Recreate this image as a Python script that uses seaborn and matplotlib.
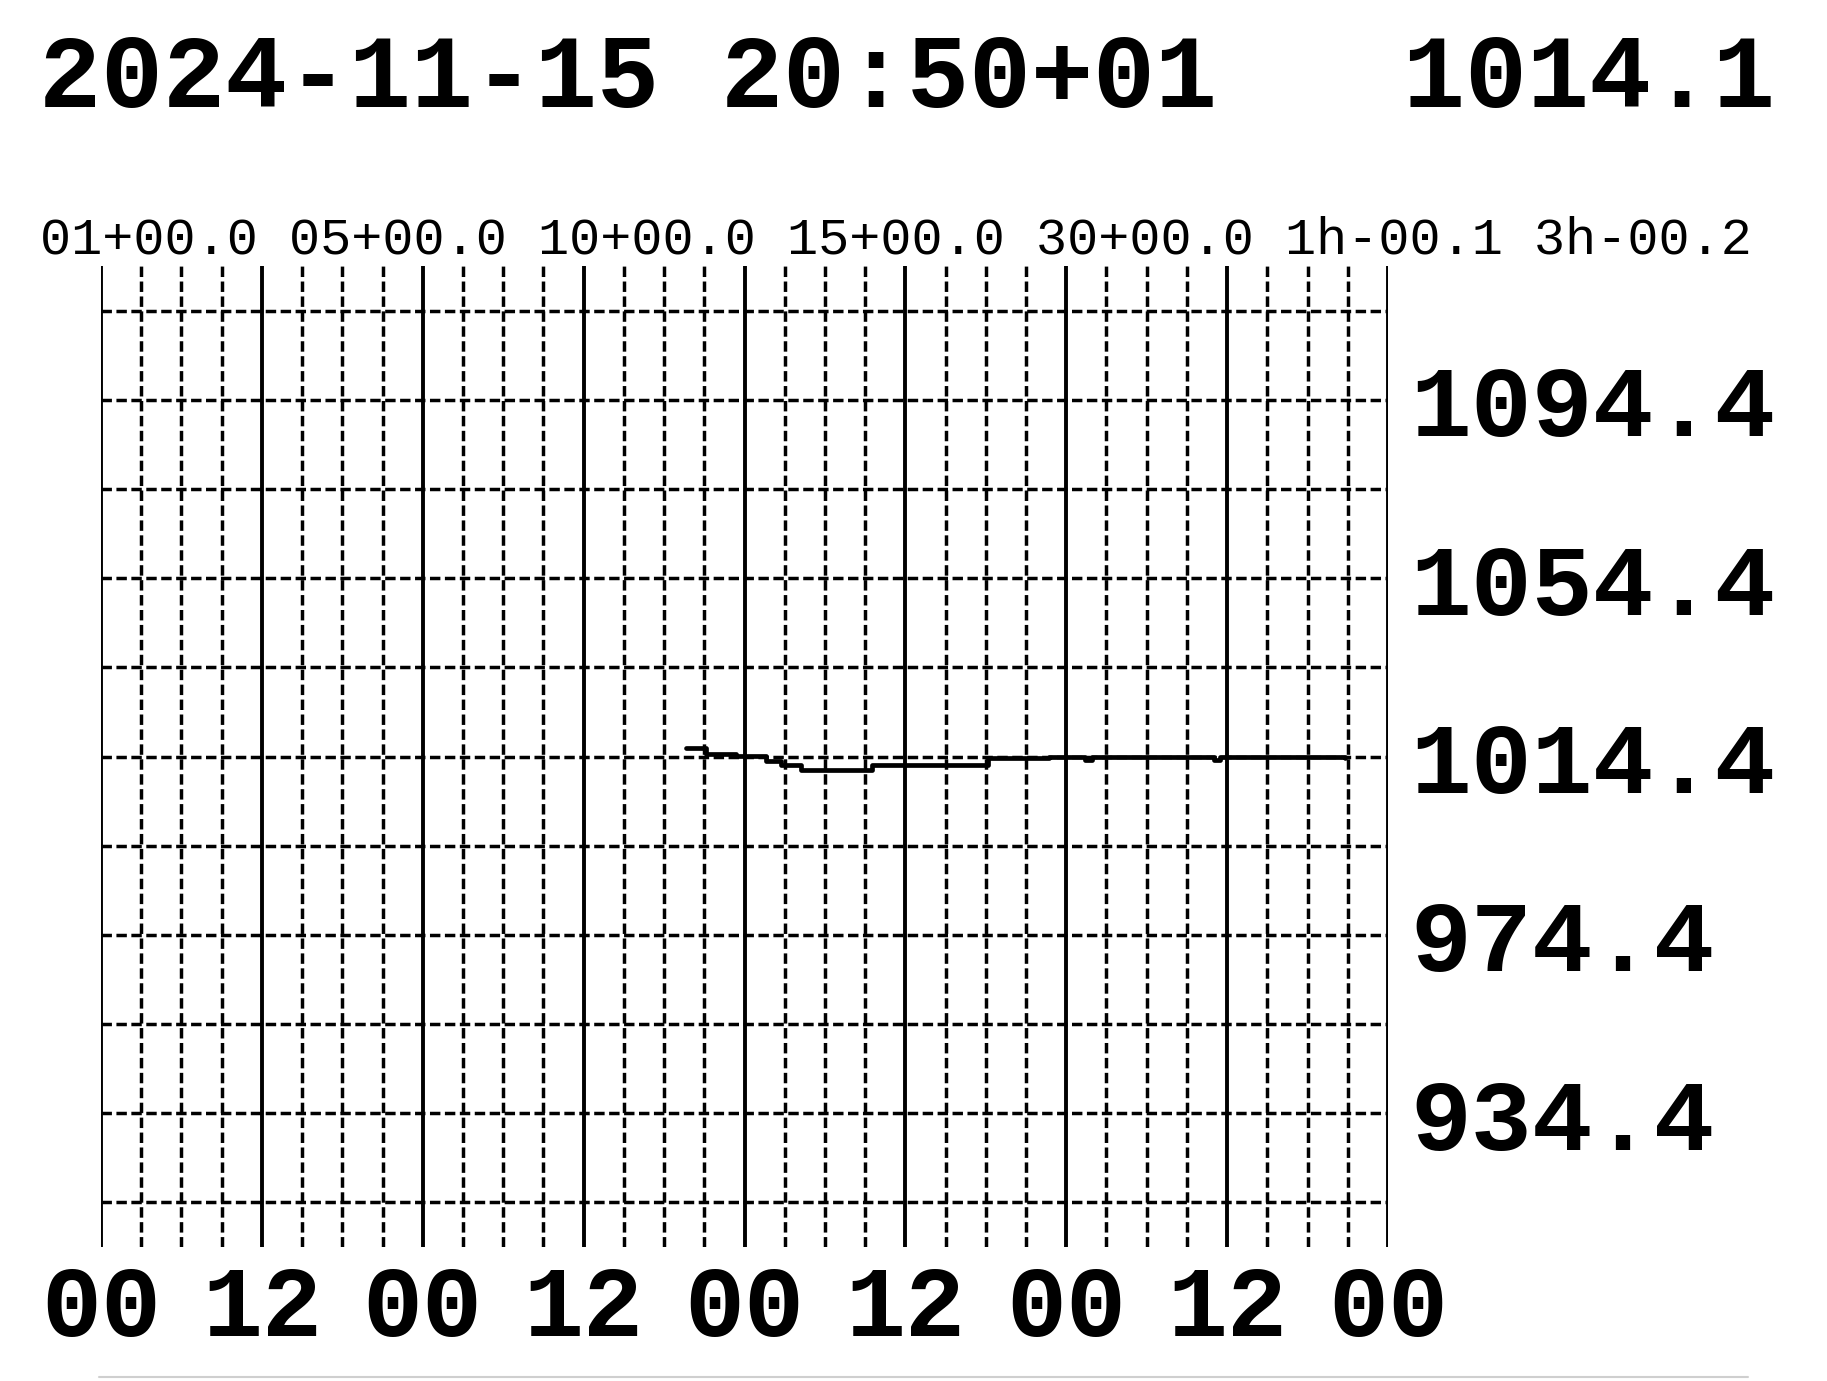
import numpy as np
import matplotlib
matplotlib.use("Agg")
import matplotlib.pyplot as plt
from matplotlib.lines import Line2D
import seaborn as sb

# barograph printout: 4 days of pressure, x in hours from the left edge
HOURS = [43.6, 45.1, 47.4, 49.6, 50.7, 52.2, 57.5, 66.2, 70.7, 73.4, 73.9, 83.0, 83.5, 92.8]
PRESSURE = [1016.3, 1015.0, 1014.5, 1013.5, 1012.4, 1011.3, 1012.4, 1014.0, 1014.3,
            1013.6, 1014.3, 1013.7, 1014.2, 1014.1]

MAJOR_HOURS = list(range(0, 97, 12))
MINOR_HOURS = [h for h in range(0, 97, 3) if h % 12 != 0]
HOUR_LABELS = ["00", "12", "00", "12", "00", "12", "00", "12", "00"]

GRID_LEVELS = [914.4, 934.4, 954.4, 974.4, 994.4, 1014.4, 1034.4, 1054.4, 1074.4, 1094.4, 1114.4]
LABEL_LEVELS = [1094.4, 1054.4, 1014.4, 974.4, 934.4]

TITLE = "2024-11-15 20:50+01   1014.1"
TREND = "01+00.0 05+00.0 10+00.0 15+00.0 30+00.0 1h-00.1 3h-00.2"

W, H = 1827, 1381


def draw():
    sb.set_style("white")
    plt.rcParams['font.family'] = ['Liberation Mono', 'DejaVu Sans Mono']
    plt.rcParams['text.color'] = 'black'

    fig = plt.figure(figsize=(W / 100, H / 100), dpi=100)
    ax = fig.add_axes([101 / W, 1 - 1247 / H, (1388 - 101) / W, (1247 - 266) / H])
    ax.set_xlim(0, 96)
    ax.set_ylim(904.4, 1124.4)
    for s in ax.spines.values():
        s.set_visible(False)
    ax.set_xticks([])
    ax.set_yticks([])

    dash = (0, (3.0, 1.3))
    for h in MINOR_HOURS:
        ax.axvline(h, color='black', lw=2.5, ls=dash, zorder=1)
    for lev in GRID_LEVELS:
        ax.axhline(lev, color='black', lw=2.5, ls=dash, zorder=1)
    for h in MAJOR_HOURS:
        ax.axvline(h, color='black', lw=2.8, zorder=2)

    sb.lineplot(x=HOURS, y=PRESSURE, ax=ax, color='black', lw=3.4,
                drawstyle='steps-post', estimator=None, zorder=3)

    # hour labels under the solid lines
    for h, lab in zip(MAJOR_HOURS, HOUR_LABELS):
        ax.text(h, -0.065, lab, transform=ax.get_xaxis_transform(), color='black',
                ha='center', va='center', fontsize=72, fontweight='bold')

    # pressure labels to the right, a little below their grid line
    for lev in LABEL_LEVELS:
        y_px = ax.transData.transform((0, lev - 2.4))[1]
        fig.text(1410 / W, y_px / H, f"{lev:.1f}", color='black',
                 ha='left', va='center', fontsize=73, fontweight='bold')

    fig.text(39 / W, 1 - 81 / H, TITLE, ha='left', va='center', color='black',
             fontsize=74.4, fontweight='bold')
    fig.text(40 / W, 1 - 240 / H, TREND, ha='left', va='center', color='black',
             fontsize=37.4)

    # faint paper edge at the bottom of the scan
    fig.add_artist(Line2D([99 / W, 1748 / W], [0.003, 0.003], transform=fig.transFigure,
                          color='#cfcfcf', lw=1.5))

    fig.savefig("out.png", dpi=100, facecolor='white')


if __name__ == "__main__":
    draw()
